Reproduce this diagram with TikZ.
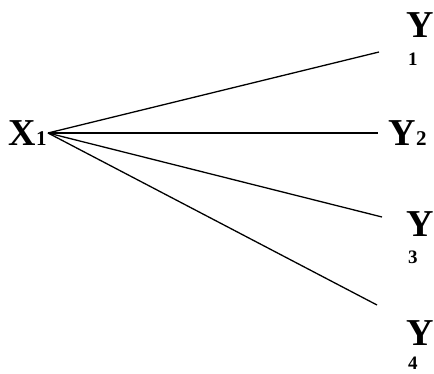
\documentclass[tikz,border=0pt]{standalone}
\usepackage{fontspec}
\setmainfont{Liberation Serif}
\begin{document}
\begin{tikzpicture}[x=1pt,y=-1pt,
  big/.style={inner sep=0pt,anchor=base west,font=\fontsize{38}{38}\selectfont\bfseries},
  sub/.style={inner sep=0pt,anchor=base west,font=\fontsize{21}{21}\selectfont\bfseries},
  subs/.style={inner sep=0pt,anchor=base west,font=\fontsize{19}{19}\selectfont\bfseries},
  edge/.style={line width=1.3pt}]
\useasboundingbox (0,0) rectangle (434,374);
% X1
\node[big] (x) at (8,146) {X};
\node[sub] (x1) at (x.base east) {1};
\coordinate (o) at (48,133);
% Y labels
\node[big] (y1) at (406,38) {Y};
\node[subs] (y1s) at (408,66) {1};
\node[big] (y2) at (388,146) {Y};
\node[sub] (y2s) at (y2.base east) {2};
\node[big] (y3) at (406,237) {Y};
\node[subs] (y3s) at (408,264) {3};
\node[big] (y4) at (406,345) {Y};
\node[subs] (y4s) at (408,369) {4};
% line ends
\coordinate (e1) at (379,52);
\coordinate (e2) at (378,133);
\coordinate (e3) at (382,217);
\coordinate (e4) at (377,305);
\draw[edge] (o) -- (e1);
\draw[edge] (o) -- (e2);
\draw[edge] (o) -- (e3);
\draw[edge] (o) -- (e4);
\end{tikzpicture}
\end{document}
